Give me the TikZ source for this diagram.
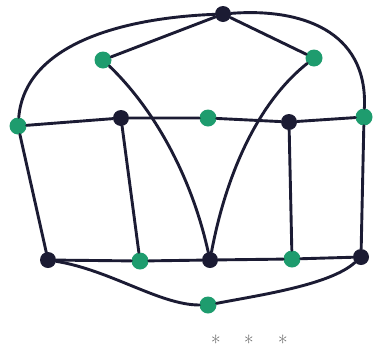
\documentclass[tikz,border=0pt]{standalone}
\definecolor{inkblue}{HTML}{1B1B33}
\definecolor{dotgreen}{HTML}{1E9C6E}
\definecolor{stargray}{HTML}{5A5A5A}

\begin{document}
\begin{tikzpicture}[
  x=1pt,
  y=-1pt,
  line join=round,
  line cap=round,
  wire/.style={draw=inkblue,line width=2.9pt},
  darkdot/.style={circle,fill=inkblue,inner sep=0pt,minimum size=16pt},
  greendot/.style={circle,fill=dotgreen,inner sep=0pt,minimum size=17pt},
  starmark/.style={text=stargray,font=\huge,inner sep=0pt,anchor=north}
]
  \useasboundingbox (0,0) rectangle (375,354);

  % Vertices of the drawing.
  \node[darkdot] (T) at (223,14) {};
  \node[greendot] (UL) at (103,60) {};
  \node[greendot] (UR) at (314,58) {};
  \node[greendot] (L) at (18,126) {};
  \node[darkdot] (ML) at (121,118) {};
  \node[greendot] (MC) at (208,118) {};
  \node[darkdot] (MR) at (289,122) {};
  \node[greendot] (R) at (364,117) {};
  \node[darkdot] (BL) at (48,260) {};
  \node[greendot] (BGa) at (140,261) {};
  \node[darkdot] (BC) at (210,260) {};
  \node[greendot] (BGb) at (292,259) {};
  \node[darkdot] (BR) at (361,257) {};
  \node[greendot] (BB) at (208,305) {};

  % Outer arcs from the top vertex.
  \draw[wire] (T) .. controls (120,18) and (25,45) .. (L);
  \draw[wire] (T) .. controls (300,8) and (368,30) .. (R);

  % Upper wedge and the two long curves down to the middle.
  \draw[wire] (T) -- (UL);
  \draw[wire] (T) -- (UR);
  \draw[wire] (UL) .. controls (150,105) and (190,170) .. (BC);
  \draw[wire] (UR) .. controls (255,105) and (225,180) .. (BC);

  % Horizontal rows.
  \draw[wire] (L) -- (ML) -- (MC) -- (MR) -- (R);
  \draw[wire] (BL) -- (BGa) -- (BC) -- (BGb) -- (BR);

  % Vertical ties.
  \draw[wire] (L) -- (BL);
  \draw[wire] (ML) -- (BGa);
  \draw[wire] (MR) -- (BGb);
  \draw[wire] (R) -- (BR);

  % Lower loop.
  \draw[wire] (BL) .. controls (110,270) and (160,305) .. (BB);
  \draw[wire] (BB) .. controls (260,295) and (330,285) .. (BR);

  % Section break.
  \node[starmark] (s1) at (216,335) {*};
  \node[starmark] (s2) at (249,335) {*};
  \node[starmark] (s3) at (283,335) {*};
\end{tikzpicture}
\end{document}
